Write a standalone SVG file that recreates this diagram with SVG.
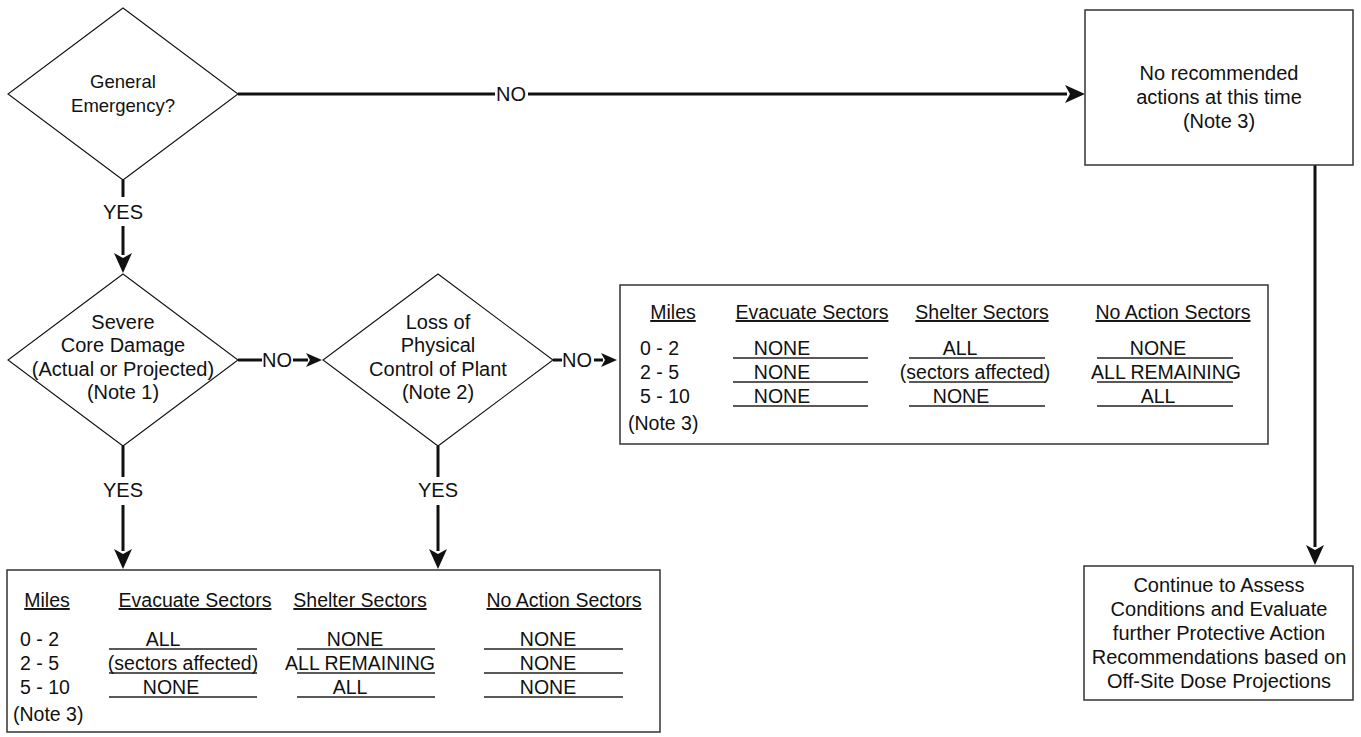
<svg xmlns="http://www.w3.org/2000/svg" width="1361" height="737" viewBox="0 0 1361 737">
<style>
.dia{fill:#fff;stroke:#111;stroke-width:1.1}
.box{fill:#fff;stroke:#333;stroke-width:1.5}
.con{fill:none;stroke:#111;stroke-width:3}
.t{font-family:"Liberation Sans",Arial,sans-serif;font-size:20px;fill:#111;text-anchor:middle}
.t18{font-size:18.5px}
.tb{font-family:"Liberation Sans",Arial,sans-serif;font-size:19.5px;fill:#111;text-anchor:middle}
.l{text-anchor:start}
.h{text-decoration:underline}
.ul{stroke:#222;stroke-width:1.3}
</style>
<defs>
<marker id="ab" markerUnits="userSpaceOnUse" orient="auto" refX="2" refY="9" markerWidth="20" markerHeight="18" overflow="visible"><path d="M0,0 L20,9 L0,18 L5,9 z" fill="#111"/></marker>
<marker id="as" markerUnits="userSpaceOnUse" orient="auto" refX="2" refY="7" markerWidth="16" markerHeight="14" overflow="visible"><path d="M0,0 L16,7 L0,14 L4,7 z" fill="#111"/></marker>
</defs>
<rect width="1361" height="737" fill="#fff"/>

<g id="connectors">
<line class="con" x1="238" y1="94" x2="495" y2="94"/>
<line class="con" x1="528" y1="94" x2="1067" y2="94" marker-end="url(#ab)"/>
<text class="t" x="511" y="101">NO</text>

<line class="con" x1="123" y1="180" x2="123" y2="197"/>
<line class="con" x1="123" y1="226" x2="123" y2="255" marker-end="url(#ab)"/>
<text class="t" x="123" y="219">YES</text>

<line class="con" x1="238" y1="360" x2="262" y2="360"/>
<line class="con" x1="293" y1="360" x2="308" y2="360" marker-end="url(#as)"/>
<text class="t" x="277" y="367">NO</text>

<line class="con" x1="553" y1="360" x2="562" y2="360"/>
<line class="con" x1="594" y1="360" x2="603" y2="360" marker-end="url(#as)"/>
<text class="t" x="577" y="367">NO</text>

<line class="con" x1="123" y1="446" x2="123" y2="477"/>
<line class="con" x1="123" y1="505" x2="123" y2="551" marker-end="url(#ab)"/>
<text class="t" x="123" y="497">YES</text>

<line class="con" x1="438" y1="446" x2="438" y2="477"/>
<line class="con" x1="438" y1="505" x2="438" y2="551" marker-end="url(#ab)"/>
<text class="t" x="438" y="497">YES</text>

<line class="con" x1="1315" y1="165" x2="1315" y2="547" marker-end="url(#ab)"/>
</g>

<g id="general-emergency">
<polygon class="dia" points="123,8 238,94 123,180 8,94"/>
<text class="t t18" x="123" y="88">General</text>
<text class="t t18" x="123" y="112">Emergency?</text>
</g>

<g id="no-recommended">
<rect class="box" x="1085" y="10" width="268" height="155"/>
<text class="t" x="1219" y="80">No recommended</text>
<text class="t" x="1219" y="104">actions at this time</text>
<text class="t" x="1219" y="128">(Note 3)</text>
</g>

<g id="severe-core-damage">
<polygon class="dia" points="123,274 238,360 123,446 8,360"/>
<text class="t" x="123" y="329">Severe</text>
<text class="t" x="123" y="352">Core Damage</text>
<text class="t" x="123" y="376">(Actual or Projected)</text>
<text class="t" x="123" y="399">(Note 1)</text>
</g>

<g id="loss-of-control">
<polygon class="dia" points="438,274 553,360 438,446 323,360"/>
<text class="t" x="438" y="329">Loss of</text>
<text class="t" x="438" y="352">Physical</text>
<text class="t" x="438" y="376">Control of Plant</text>
<text class="t" x="438" y="399">(Note 2)</text>
</g>

<g id="table-shelter">
<rect class="box" x="620" y="285" width="648" height="159"/>
<text class="tb h" x="673" y="319">Miles</text>
<text class="tb h" x="812" y="319">Evacuate Sectors</text>
<text class="tb h" x="982" y="319">Shelter Sectors</text>
<text class="tb h" x="1173" y="319">No Action Sectors</text>
<text class="tb l" x="640" y="355">0 - 2</text>
<text class="tb l" x="640" y="379">2 - 5</text>
<text class="tb l" x="640" y="403">5 - 10</text>
<text class="tb l" x="628" y="430">(Note 3)</text>
<line class="ul" x1="733" y1="358" x2="868" y2="358"/>
<line class="ul" x1="733" y1="382" x2="868" y2="382"/>
<line class="ul" x1="733" y1="406" x2="868" y2="406"/>
<line class="ul" x1="909" y1="358" x2="1045" y2="358"/>
<line class="ul" x1="909" y1="382" x2="1045" y2="382"/>
<line class="ul" x1="909" y1="406" x2="1045" y2="406"/>
<line class="ul" x1="1097" y1="358" x2="1233" y2="358"/>
<line class="ul" x1="1097" y1="382" x2="1233" y2="382"/>
<line class="ul" x1="1097" y1="406" x2="1233" y2="406"/>
<text class="tb" x="782" y="355">NONE</text>
<text class="tb" x="782" y="379">NONE</text>
<text class="tb" x="782" y="403">NONE</text>
<text class="tb" x="960" y="355">ALL</text>
<text class="tb" x="975" y="379">(sectors affected)</text>
<text class="tb" x="961" y="403">NONE</text>
<text class="tb" x="1158" y="355">NONE</text>
<text class="tb" x="1166" y="379">ALL REMAINING</text>
<text class="tb" x="1158" y="403">ALL</text>
</g>

<g id="table-evacuate">
<rect class="box" x="7" y="570" width="653" height="162"/>
<text class="tb h" x="47" y="607">Miles</text>
<text class="tb h" x="195" y="607">Evacuate Sectors</text>
<text class="tb h" x="360" y="607">Shelter Sectors</text>
<text class="tb h" x="564" y="607">No Action Sectors</text>
<text class="tb l" x="20" y="646">0 - 2</text>
<text class="tb l" x="20" y="670">2 - 5</text>
<text class="tb l" x="20" y="694">5 - 10</text>
<text class="tb l" x="13" y="721">(Note 3)</text>
<line class="ul" x1="109" y1="649" x2="257" y2="649"/>
<line class="ul" x1="109" y1="673" x2="257" y2="673"/>
<line class="ul" x1="109" y1="697" x2="257" y2="697"/>
<line class="ul" x1="297" y1="649" x2="435" y2="649"/>
<line class="ul" x1="297" y1="673" x2="435" y2="673"/>
<line class="ul" x1="297" y1="697" x2="435" y2="697"/>
<line class="ul" x1="484" y1="649" x2="623" y2="649"/>
<line class="ul" x1="484" y1="673" x2="623" y2="673"/>
<line class="ul" x1="484" y1="697" x2="623" y2="697"/>
<text class="tb" x="163" y="646">ALL</text>
<text class="tb" x="183" y="670">(sectors affected)</text>
<text class="tb" x="171" y="694">NONE</text>
<text class="tb" x="355" y="646">NONE</text>
<text class="tb" x="360" y="670">ALL REMAINING</text>
<text class="tb" x="350" y="694">ALL</text>
<text class="tb" x="548" y="646">NONE</text>
<text class="tb" x="548" y="670">NONE</text>
<text class="tb" x="548" y="694">NONE</text>
</g>

<g id="continue-assess">
<rect class="box" x="1084" y="566" width="269" height="134"/>
<text class="t" x="1219" y="592">Continue to Assess</text>
<text class="t" x="1219" y="616">Conditions and Evaluate</text>
<text class="t" x="1219" y="640">further Protective Action</text>
<text class="t" x="1219" y="664">Recommendations based on</text>
<text class="t" x="1219" y="688">Off-Site Dose Projections</text>
</g>
</svg>
